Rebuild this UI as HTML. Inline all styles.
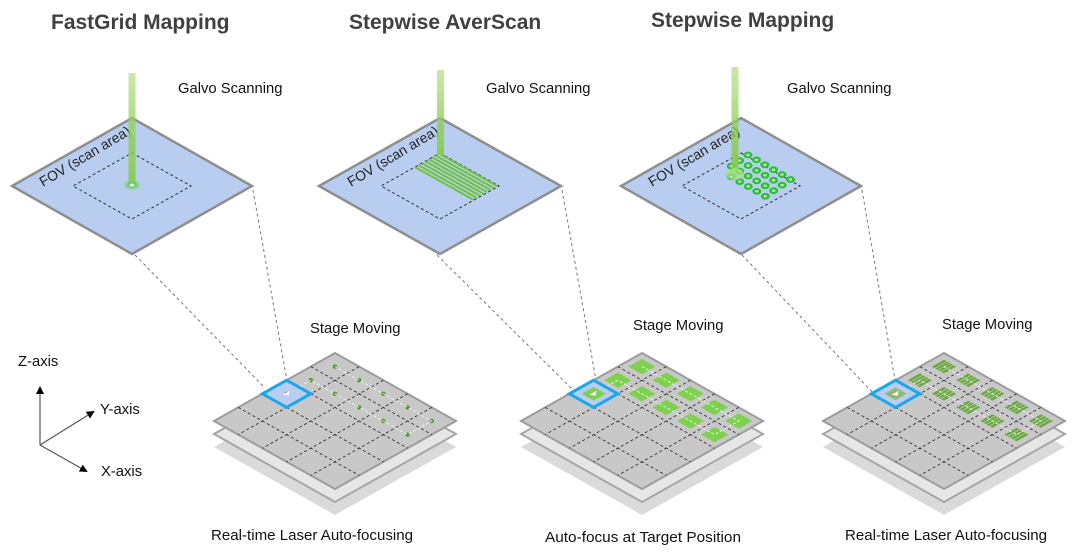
<!DOCTYPE html>
<html><head><meta charset="utf-8"><style>
body{margin:0;background:#fff;}
svg{display:block;font-family:"Liberation Sans",Arial,sans-serif;}
</style></head><body>
<svg id="s" width="1080" height="554" viewBox="0 0 1080 554" xmlns="http://www.w3.org/2000/svg">
<defs>
<linearGradient id="beam" x1="0" y1="0" x2="0" y2="1">
<stop offset="0" stop-color="#9ed45e" stop-opacity="0.55"/><stop offset="1" stop-color="#86cc50" stop-opacity="0.95"/></linearGradient>
<radialGradient id="spot"><stop offset="0" stop-color="#2fc23a"/><stop offset="0.5" stop-color="#5fd060" stop-opacity="0.7"/><stop offset="1" stop-color="#8fe08a" stop-opacity="0"/></radialGradient>
<marker id="ar" markerWidth="8" markerHeight="8" refX="6" refY="4" orient="auto" markerUnits="userSpaceOnUse"><path d="M0,0 L8,4 L0,8 z" fill="#000"/></marker>
</defs>
<g fill="#404040" font-weight="bold" font-size="21">
<text x="51" y="29">FastGrid Mapping</text>
<text x="349" y="29">Stepwise AverScan</text>
<text x="651" y="27">Stepwise Mapping</text>
</g>
<g fill="#111" font-size="14.8">
<text x="178" y="93">Galvo Scanning</text>
<text x="486" y="93">Galvo Scanning</text>
<text x="787" y="93">Galvo Scanning</text>
<text x="310" y="333">Stage Moving</text>
<text x="633" y="330">Stage Moving</text>
<text x="942" y="329">Stage Moving</text>
<text x="211" y="540" textLength="202" lengthAdjust="spacingAndGlyphs">Real-time Laser Auto-focusing</text>
<text x="545" y="542" textLength="196" lengthAdjust="spacingAndGlyphs">Auto-focus at Target Position</text>
<text x="845" y="540" textLength="202" lengthAdjust="spacingAndGlyphs">Real-time Laser Auto-focusing</text>
<text x="18" y="366">Z-axis</text>
<text x="100" y="414">Y-axis</text>
<text x="101" y="476">X-axis</text>
</g>
<g stroke="#555" stroke-width="1.2" marker-end="url(#ar)">
<line x1="40" y1="445" x2="40" y2="388"/>
<line x1="40" y1="445" x2="93" y2="412"/>
<line x1="40" y1="445" x2="86" y2="471"/>
</g>
<g id="g"></g>
</svg>
<script>
var g=document.getElementById('g'),NS='http://www.w3.org/2000/svg';
function el(t,a,p){var e=document.createElementNS(NS,t);for(var k in a)e.setAttribute(k,a[k]);(p||g).appendChild(e);return e;}
function poly(pts,a){a.points=pts.map(function(p){return p[0].toFixed(1)+','+p[1].toFixed(1)}).join(' ');return el('polygon',a);}
[[135,255,265,388],[253,190,287,381],[437,255,573,390],[562,190,596,380],[742,255,875,395],[862,190,895,380]].forEach(function(l){
el('line',{x1:l[0],y1:l[1],x2:l[2],y2:l[3],stroke:'#777','stroke-width':1,'stroke-dasharray':'3,3'});});
var plates=[[132,186,120],[440,186,121],[741,186,120]];
plates.forEach(function(p,k){
var cx=p[0],cy=p[1],w=p[2],h=68;
poly([[cx,cy-h],[cx+w,cy],[cx,cy+h],[cx-w,cy]],{fill:'#b8cdf0',stroke:'#8e8e8e','stroke-width':2.5});
poly([[cx,cy-33],[cx+59,cy],[cx,cy+33],[cx-59,cy]],{fill:'none',stroke:'#333','stroke-width':1,'stroke-dasharray':'3,2.5'});
var t=el('text',{x:0,y:0,'font-size':14,fill:'#222',transform:'translate('+(cx-89)+','+(cy+1)+') rotate(-31)'});t.textContent='FOV (scan area)';
});
el('rect',{x:128.5,y:73,width:7,height:112,fill:'url(#beam)'});
el('ellipse',{cx:132,cy:185,rx:10,ry:6,fill:'url(#spot)'});
el('ellipse',{cx:132,cy:185,rx:2.5,ry:1.5,fill:'#fff'});
for(var i=0;i<8;i++){var sx=439-i*3.4,sy=153.5+i*1.95;
el('line',{x1:sx,y1:sy,x2:sx+58,y2:sy+32.5,stroke:'#6cc43c','stroke-width':2});}
el('rect',{x:437,y:70,width:7,height:85,fill:'url(#beam)'});
for(var r=0;r<4;r++)for(var c=0;c<6;c++){
if(r==3&&c==0)continue;
var x=748+c*8.5-r*8.4,y=155+c*4.9+r*5.6;
el('ellipse',{cx:x,cy:y,rx:4.5,ry:3.4,fill:'#2fbf3a'});
el('ellipse',{cx:x,cy:y,rx:1.7,ry:1.2,fill:'#bdf0b0'});}
el('rect',{x:731.5,y:67,width:7,height:104,fill:'url(#beam)'});
el('ellipse',{cx:735,cy:174,rx:9,ry:6,fill:'#a8e07a',opacity:0.7});
var grids=[[335,353,0],[642,353,1],[944,353,2]];
grids.forEach(function(G){
var tx=G[0],ty=G[1],ux=24.2,uy=13.6,vx=-24.2,vy=13.6;
function P(i,j,o){return [tx+i*ux+j*vx,ty+i*uy+j*vy+(o||0)];}
function quad(o){return [P(0,0,o),P(5,0,o),P(5,5,o),P(0,5,o)];}
poly(quad(26),{fill:'#dadada'});
poly(quad(13),{fill:'#e6e6e6',stroke:'#a6a6a6','stroke-width':2});
poly(quad(0),{fill:'#c8c8c8',stroke:'#9c9c9c','stroke-width':2});
for(var k=1;k<5;k++){var a=P(k,0),b=P(k,5),c=P(0,k),d=P(5,k);
el('line',{x1:a[0],y1:a[1],x2:b[0],y2:b[1],stroke:'#333','stroke-width':0.9,'stroke-dasharray':'3,2.5'});
el('line',{x1:c[0],y1:c[1],x2:d[0],y2:d[1],stroke:'#333','stroke-width':0.9,'stroke-dasharray':'3,2.5'});}
function C(i,j){return P(i+.5,j+.5);}
var path=[];[[0,2],[0,1],[4,1],[4,0],[0,0]].forEach(function(q){path.push(C(q[0],q[1]));});
for(var j=0;j<2;j++)for(var i=0;i<5;i++){
var c0=C(i,j);
if(G[2]==0){el('circle',{cx:c0[0],cy:c0[1],r:2.2,fill:'#4c9a2a'});}
else if(G[2]==1){poly([P(i+.22,j+.22),P(i+.78,j+.22),P(i+.78,j+.78),P(i+.22,j+.78)],{fill:'#7ed04f'});}
else{poly([P(i+.25,j+.25),P(i+.75,j+.25),P(i+.75,j+.75),P(i+.25,j+.75)],{fill:'#6ea548'});
for(var m=1;m<4;m++){var a1=P(i+.25+m*.125,j+.25),b1=P(i+.25+m*.125,j+.75);
el('line',{x1:a1[0],y1:a1[1],x2:b1[0],y2:b1[1],stroke:'#c8e8b0','stroke-width':0.6});}}}
el('polyline',{points:path.map(function(p){return p.join(',')}).join(' '),fill:'none',stroke:'#f4f4f4','stroke-width':1,'stroke-dasharray':'3,2',opacity:0.9});
poly([P(0,2),P(1,2),P(1,3),P(0,3)],{fill:'#b8cdf0',stroke:'#1aa7ec','stroke-width':3});
var bc=C(0,2);
if(G[2]==1)poly([P(.25,2.25),P(.75,2.25),P(.75,2.75),P(.25,2.75)],{fill:'#7ed04f'});
if(G[2]==2)poly([P(.27,2.27),P(.73,2.27),P(.73,2.73),P(.27,2.73)],{fill:'#8fba70'});
if(G[2]==0)el('circle',{cx:bc[0],cy:bc[1],r:2,fill:'#4c9a2a'});
el('path',{d:'M'+(bc[0]-4)+','+(bc[1]+1)+' l7,-4 l-1,5 z',fill:'#fff'});
});
</script>
</body></html>
